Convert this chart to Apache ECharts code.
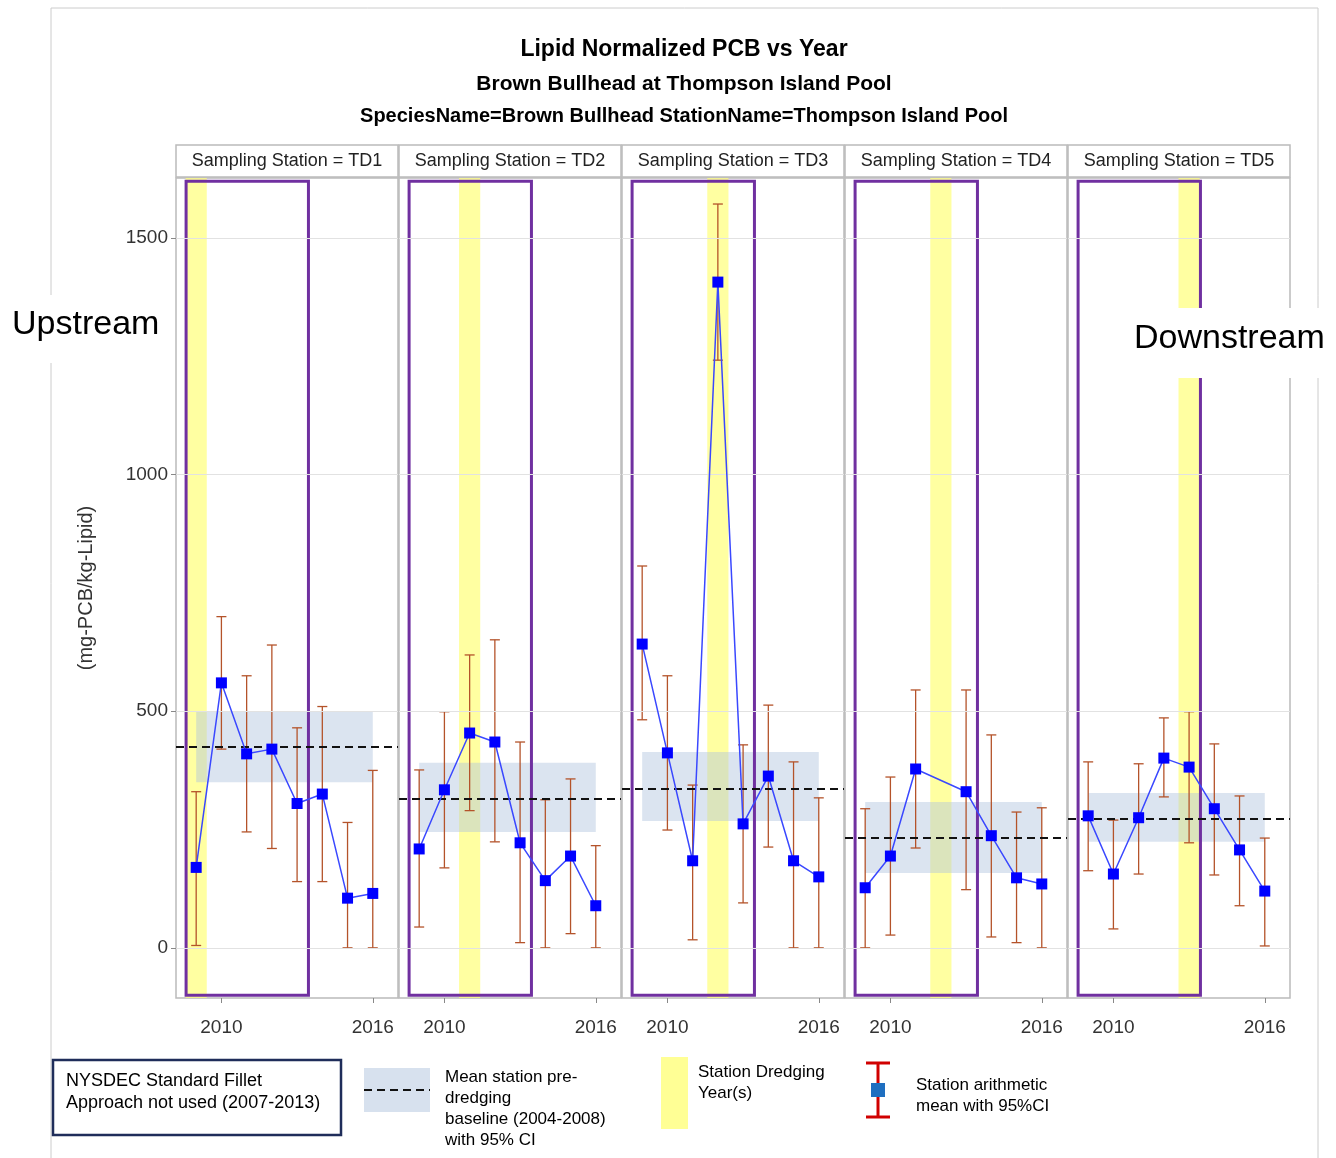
<!DOCTYPE html>
<html><head><meta charset="utf-8">
<script src="https://cdn.jsdelivr.net/npm/echarts@6/dist/echarts.min.js"></script>
<style>body{margin:0;background:#fff}#main{width:1336px;height:1158px}</style>
</head><body><div id="main"></div>
<script>
// data per station
const stations = ["TD1", "TD2", "TD3", "TD4", "TD5"];
const years = [[2009,2010,2011,2012,2013,2014,2015,2016],[2009,2010,2011,2012,2013,2014,2015,2016],[2009,2010,2011,2012,2013,2014,2015,2016],[2009,2010,2011,2013,2014,2015,2016],[2009,2010,2011,2012,2013,2014,2015,2016]];
const means = [
  [170,560,410,420,305,325,105,115],
  [209,334,454,435,222,142,194,89],
  [642,412,184,1407,262,363,184,150],
  [127,194,378,330,237,148,135],
  [279,156,275,401,382,294,207,120]
];
const lower = [
  [5,420,245,210,140,140,0,0],
  [44,169,290,224,11,0,30,0],
  [482,249,17,1242,95,213,0,0],
  [0,27,211,123,23,11,0],
  [163,40,156,319,222,154,89,4]
];
const upper = [
  [330,700,575,640,465,510,265,375],
  [376,499,619,651,435,313,357,216],
  [807,575,344,1572,429,513,393,317],
  [294,361,545,545,450,287,296],
  [393,270,389,486,499,431,321,232]
];
const dredgeYear = [2009, 2011, 2012, 2012, 2013];
const baseMean = [425, 315, 337, 232, 273];
const baseLo = [350, 245, 268, 158, 224];
const baseHi = [500, 391, 414, 308, 327];
const yTicks = [0, 500, 1000, 1500];
const xTicks = [2010, 2016];

const gLeft = [176, 399, 622, 845, 1068], gW = 222, gTop = 178, gH = 820;
const font = "'Liberation Sans Narrow', 'Liberation Sans', sans-serif";

let grids = [], xAxes = [], yAxes = [], series = [], graphic = [];
stations.forEach((s, i) => {
  grids.push({ left: gLeft[i], top: gTop, width: gW, height: gH, show: true, borderColor: '#bbb', borderWidth: 1.5 });
  xAxes.push({ gridIndex: i, type: 'value', min: 2008.2, max: 2017,
    axisLine: { show: false, onZero: false }, splitLine: { show: false },
    axisTick: { show: true, customValues: xTicks, lineStyle: { color: '#888' }, length: 5 },
    axisLabel: { customValues: xTicks, formatter: v => String(v), color: '#333', fontSize: 19, fontFamily: font, margin: 20 } });
  yAxes.push({ gridIndex: i, type: 'value', min: -106, max: 1627,
    axisLine: { show: false },
    axisTick: { show: i === 0, customValues: yTicks, lineStyle: { color: '#888' } },
    axisLabel: { show: i === 0, color: '#333', fontSize: 19, fontFamily: font, customValues: yTicks, formatter: v => String(v) },
    splitLine: { show: false },
    name: i === 0 ? '(mg-PCB/kg-Lipid)' : '', nameLocation: 'middle', nameGap: 80,
    nameTextStyle: { fontSize: 20, color: '#333', fontFamily: 'Liberation Sans' } });
  const pts = years[i].map((y, k) => [y, means[i][k]]);
  series.push({ type: 'line', xAxisIndex: i, yAxisIndex: i, data: pts, symbol: 'rect', symbolSize: 11,
    itemStyle: { color: '#0000ff' }, lineStyle: { color: '#3a48ff', width: 1.5 }, z: 5,
    markArea: { silent: true, data: [
      [{ xAxis: dredgeYear[i] - 0.42, yAxis: -106, itemStyle: { color: 'rgba(255,255,130,0.75)' } }, { xAxis: dredgeYear[i] + 0.42, yAxis: 1627 }],
      [{ xAxis: 2009, yAxis: baseLo[i], itemStyle: { color: 'rgba(176,196,222,0.45)' } }, { xAxis: 2016, yAxis: baseHi[i] }],
      [{ xAxis: 2008.6, yAxis: -100, itemStyle: { color: 'rgba(0,0,0,0)', borderColor: '#7030a0', borderWidth: 3 } }, { xAxis: 2013.45, yAxis: 1620 }]
    ] },
    markLine: { silent: true, symbol: 'none', label: { show: false },
      data: [[{ coord: [2008.2, baseMean[i]], lineStyle: { color: '#111', type: [8, 5], width: 2 } }, { coord: [2017, baseMean[i]] }]]
        .concat(yTicks.map(t => [{ coord: [2008.2, t], lineStyle: { color: '#e2e2e2', type: 'solid', width: 1 } }, { coord: [2017, t] }])) }
  });
  series.push({ type: 'custom', xAxisIndex: i, yAxisIndex: i, z: 4,
    data: years[i].map((y, k) => [y, lower[i][k], upper[i][k]]),
    renderItem: (params, api) => {
      const a = api.coord([api.value(0), api.value(1)]);
      const b = api.coord([api.value(0), api.value(2)]);
      const st = { stroke: '#b4532a', lineWidth: 1.3 };
      return { type: 'group', children: [
        { type: 'line', shape: { x1: a[0], y1: a[1], x2: b[0], y2: b[1] }, style: st },
        { type: 'line', shape: { x1: a[0] - 5, y1: a[1], x2: a[0] + 5, y2: a[1] }, style: st },
        { type: 'line', shape: { x1: b[0] - 5, y1: b[1], x2: b[0] + 5, y2: b[1] }, style: st }
      ] };
    } });
  graphic.push({ type: 'rect', shape: { x: gLeft[i], y: 145, width: gW, height: 32 }, style: { fill: '#fff', stroke: '#bbb', lineWidth: 1.5 } });
  graphic.push({ type: 'text', x: gLeft[i] + gW / 2, y: 161, style: { text: 'Sampling Station = ' + s, font: '18px ' + font, fill: '#222', align: 'center', verticalAlign: 'middle' } });
});

graphic.push(
  { type: 'rect', shape: { x: 51, y: 8, width: 1267, height: 1160 }, style: { fill: 'none', stroke: '#ccc', lineWidth: 1 }, z: -10 },
  { type: 'text', x: 684, y: 50, style: { text: 'Lipid Normalized PCB vs Year', font: 'bold 23px ' + font, fill: '#000', align: 'center', verticalAlign: 'middle' } },
  { type: 'text', x: 684, y: 84, style: { text: 'Brown Bullhead at Thompson Island Pool', font: 'bold 21px ' + font, fill: '#000', align: 'center', verticalAlign: 'middle' } },
  { type: 'text', x: 684, y: 116, style: { text: 'SpeciesName=Brown Bullhead StationName=Thompson Island Pool', font: 'bold 20px ' + font, fill: '#000', align: 'center', verticalAlign: 'middle' } },
  { type: 'rect', shape: { x: 0, y: 295, width: 172, height: 68 }, style: { fill: '#fff' }, z: 50 },
  { type: 'text', x: 12, y: 325, z: 51, style: { text: 'Upstream', font: '34px Liberation Sans', fill: '#000', verticalAlign: 'middle' } },
  { type: 'rect', shape: { x: 1131, y: 308, width: 205, height: 70 }, style: { fill: '#fff' }, z: 50 },
  { type: 'text', x: 1134, y: 339, z: 51, style: { text: 'Downstream', font: '34px Liberation Sans', fill: '#000', verticalAlign: 'middle' } },
  // legend
  { type: 'rect', shape: { x: 53, y: 1060, width: 288, height: 75 }, style: { fill: '#fff', stroke: '#1f2d5a', lineWidth: 2.5 } },
  { type: 'text', x: 66, y: 1070, style: { text: 'NYSDEC Standard Fillet\nApproach not used (2007-2013)', font: '18px Liberation Sans', fill: '#000', lineHeight: 22 } },
  { type: 'rect', shape: { x: 364, y: 1068, width: 66, height: 44 }, style: { fill: 'rgba(176,196,222,0.5)' } },
  { type: 'line', shape: { x1: 364, y1: 1090, x2: 430, y2: 1090 }, style: { stroke: '#111', lineWidth: 2, lineDash: [8, 5] } },
  { type: 'text', x: 445, y: 1067, style: { text: 'Mean station pre-\ndredging\nbaseline (2004-2008)\nwith 95% CI', font: '17px Liberation Sans', fill: '#000', lineHeight: 21 } },
  { type: 'rect', shape: { x: 661, y: 1057, width: 27, height: 72 }, style: { fill: 'rgba(255,255,130,0.85)' } },
  { type: 'text', x: 698, y: 1062, style: { text: 'Station Dredging\nYear(s)', font: '17px Liberation Sans', fill: '#000', lineHeight: 21 } },
  { type: 'line', shape: { x1: 878, y1: 1063, x2: 878, y2: 1117 }, style: { stroke: '#d00000', lineWidth: 3 } },
  { type: 'line', shape: { x1: 866, y1: 1063, x2: 890, y2: 1063 }, style: { stroke: '#d00000', lineWidth: 3 } },
  { type: 'line', shape: { x1: 866, y1: 1117, x2: 890, y2: 1117 }, style: { stroke: '#d00000', lineWidth: 3 } },
  { type: 'rect', shape: { x: 871, y: 1083, width: 14, height: 14 }, style: { fill: '#1f6fc0' } },
  { type: 'text', x: 916, y: 1075, style: { text: 'Station arithmetic\nmean with 95%CI', font: '17px Liberation Sans', fill: '#000', lineHeight: 21 } }
);

const myChart = echarts.init(document.getElementById('main'));
myChart.setOption({ animation: false, grid: grids, xAxis: xAxes, yAxis: yAxes, series: series, graphic: graphic });
</script></body></html>
